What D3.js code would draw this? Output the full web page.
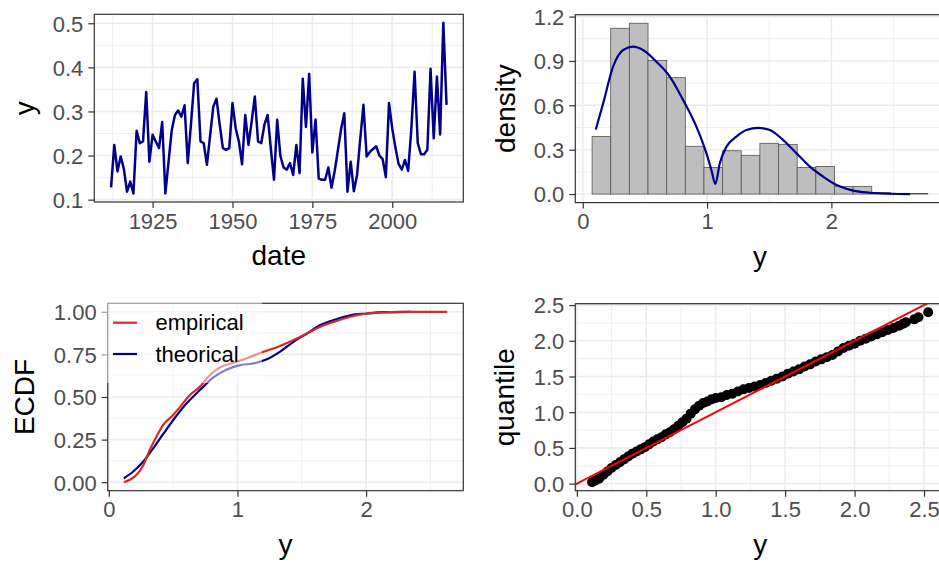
<!DOCTYPE html>
<html>
<head>
<meta charset="utf-8">
<script src="https://d3js.org/d3.v7.min.js"></script>
<style>
  body { margin: 0; background: #fff; }
  svg { display: block; font-family: "Liberation Sans", Arial, sans-serif; }
  .grid-major { stroke: #ebebeb; stroke-width: 1.6px; }
  .grid-minor { stroke: #ebebeb; stroke-width: 0.8px; }
  .border { fill: none; stroke: #333; stroke-width: 1.2px; }
  .tick line { stroke: #333; stroke-width: 1.2px; }
  .tick text { fill: #4d4d4d; font-size: 22px; }
  .axis-title { fill: #000; font-size: 28px; }
</style>
</head>
<body>
<svg id="chart" width="939" height="564"></svg>
<script>
// ---- time series (top left) ----
const years = [1912,1913,1914,1915,1916,1917,1918,1919,1920,1921,1922,1923,1924,1925,1926,1927,1928,1929,
  1930,1931,1932,1933,1934,1935,1936,1937,1938,1939,1940,1941,1942,1943,1944,1945,1946,1947,1948,1949,
  1950,1951,1952,1953,1954,1955,1956,1957,1958,1959,1960,1961,1962,1963,1964,1965,1966,1967,1968,1969,
  1970,1971,1972,1973,1974,1975,1976,1977,1978,1979,1980,1981,1982,1983,1984,1985,1986,1987,1988,1989,
  1990,1991,1992,1993,1994,1995,1996,1997,1998,1999,2000,2001,2002,2003,2004,2005,2006,2007,2008,2009,
  2010,2011,2012,2013,2014,2015,2016,2017];
const yearValues = [0.128,0.224,0.164,0.198,0.170,0.118,0.141,0.114,0.256,0.228,0.232,0.344,0.186,0.247,0.232,0.217,0.276,0.114,
  0.186,0.258,0.292,0.302,0.288,0.314,0.183,0.270,0.364,0.373,0.232,0.228,0.179,0.245,0.311,0.329,0.270,0.217,0.213,0.217,
  0.319,0.262,0.232,0.180,0.292,0.224,0.277,0.334,0.232,0.228,0.270,0.292,0.217,0.145,0.281,0.199,0.173,0.168,0.183,0.156,
  0.224,0.160,0.374,0.265,0.385,0.207,0.282,0.148,0.145,0.145,0.173,0.127,0.165,0.212,0.260,0.296,0.118,0.186,0.119,0.156,
  0.238,0.315,0.198,0.208,0.215,0.221,0.200,0.192,0.151,0.319,0.262,0.218,0.181,0.168,0.190,0.165,0.262,0.390,0.228,0.203,
  0.203,0.213,0.397,0.239,0.379,0.248,0.501,0.315];

// ---- histogram + fitted density (top right) ----
const binStart = [0.075,0.225,0.375,0.525,0.675,0.825,0.975,1.125,1.275,1.425,1.575,1.725,1.875,2.025,2.175,2.325,2.475,2.625];
const binEnd   = [0.225,0.375,0.525,0.675,0.825,0.975,1.125,1.275,1.425,1.575,1.725,1.875,2.025,2.175,2.325,2.475,2.625,2.775];
const binDensity = [0.39,1.121,1.155,0.904,0.787,0.323,0.18,0.293,0.262,0.343,0.336,0.18,0.187,0.052,0.052,0.011,0.005,0.004];
const densX = [0.105,0.164,0.244,0.325,0.405,0.485,0.592,0.700,0.807,0.914,0.995,1.035,1.067,1.102,1.156,1.236,1.317,1.413,1.505,1.612,1.720,1.827,1.935,2.042,2.176,2.310,2.471,2.632];
const densY = [0.437,0.613,0.862,0.974,0.997,0.974,0.895,0.794,0.636,0.456,0.275,0.162,0.068,0.207,0.320,0.388,0.433,0.447,0.433,0.365,0.275,0.185,0.117,0.061,0.023,0.009,0.002,0.0];

// ---- ECDF (bottom left) ----
const empX = [0.117,0.164,0.216,0.268,0.319,0.371,0.423,0.501,0.566,0.618,0.709,0.787,0.865,0.969,1.073,1.203,1.332,1.436,1.540,1.644,1.748,1.877,2.008,2.138,2.268,2.630];
const empY = [0.0,0.014,0.043,0.10,0.19,0.268,0.336,0.395,0.453,0.502,0.561,0.629,0.674,0.701,0.727,0.766,0.799,0.834,0.873,0.912,0.941,0.971,0.990,0.996,1.0,1.0];
const theoX = [0.117,0.19,0.268,0.345,0.423,0.501,0.605,0.709,0.813,0.917,1.021,1.125,1.229,1.332,1.436,1.540,1.644,1.748,1.877,2.008,2.138,2.345];
const theoY = [0.023,0.0625,0.121,0.199,0.283,0.365,0.463,0.541,0.615,0.662,0.6875,0.697,0.721,0.766,0.824,0.873,0.922,0.951,0.980,0.990,0.998,1.0];
const legendLabels = ["empirical", "theorical"];

// ---- QQ plot (bottom right) ----
const qqX = [0.11,0.13,0.16,0.19,0.22,0.25,0.28,0.31,0.34,0.37,0.40,0.43,0.46,0.49,0.52,0.55,0.58,0.61,0.64,0.67,0.70,0.73,0.76,0.79,
  0.82,0.85,0.88,0.91,0.94,0.97,1.00,1.04,1.08,1.12,1.16,1.20,1.24,1.28,1.32,1.36,1.40,1.44,1.48,1.52,1.56,1.60,1.64,1.68,1.72,1.76,
  1.80,1.84,1.88,1.92,1.96,2.00,2.04,2.08,2.12,2.16,2.20,2.24,2.28,2.32,2.35,2.37,2.43,2.46,2.53];
const qqY = [0.02,0.04,0.07,0.12,0.17,0.22,0.26,0.30,0.34,0.38,0.42,0.45,0.48,0.51,0.55,0.59,0.62,0.65,0.69,0.72,0.76,0.81,0.86,0.91,
  0.98,1.04,1.09,1.13,1.15,1.18,1.20,1.21,1.24,1.26,1.29,1.32,1.34,1.36,1.38,1.41,1.44,1.47,1.50,1.54,1.57,1.60,1.64,1.67,1.71,1.74,
  1.77,1.80,1.85,1.90,1.93,1.96,2.00,2.03,2.06,2.09,2.12,2.15,2.18,2.21,2.24,2.26,2.30,2.33,2.40];

const svg = d3.select("#chart");
const navy = "#00008b";

// ggplot style 5% expansion
const pad = ext => { let d = (ext[1]-ext[0])*0.05; return [ext[0]-d, ext[1]+d]; };

// draws background grid, border, axes and titles for one panel
function panel(p) {
  const g = svg.append("g");
  const [x0, x1] = p.x.range(), [y0, y1] = p.y.range();
  g.append("rect").attr("x", x0).attr("y", y1).attr("width", x1-x0).attr("height", y0-y1).attr("fill", "#fff");
  g.selectAll("line.xmin").data(p.xMinor).join("line").attr("class","grid-minor")
    .attr("x1", d => p.x(d)).attr("x2", d => p.x(d)).attr("y1", y0).attr("y2", y1);
  g.selectAll("line.ymin").data(p.yMinor).join("line").attr("class","grid-minor")
    .attr("y1", d => p.y(d)).attr("y2", d => p.y(d)).attr("x1", x0).attr("x2", x1);
  g.selectAll("line.xmaj").data(p.xTicks).join("line").attr("class","grid-major")
    .attr("x1", d => p.x(d)).attr("x2", d => p.x(d)).attr("y1", y0).attr("y2", y1);
  g.selectAll("line.ymaj").data(p.yTicks).join("line").attr("class","grid-major")
    .attr("y1", d => p.y(d)).attr("y2", d => p.y(d)).attr("x1", x0).attr("x2", x1);

  const clipId = "clip" + Math.round(x0) + "_" + Math.round(y1);
  svg.append("clipPath").attr("id", clipId).append("rect")
    .attr("x", x0).attr("y", y1).attr("width", x1-x0).attr("height", y0-y1);
  const plot = svg.append("g").attr("clip-path", `url(#${clipId})`);

  const front = svg.append("g");
  front.append("rect").attr("class","border").attr("x", x0).attr("y", y1).attr("width", x1-x0).attr("height", y0-y1);
  front.append("g").attr("transform", `translate(0,${y0})`)
    .call(d3.axisBottom(p.x).tickValues(p.xTicks).tickFormat(p.xFmt).tickSize(6).tickPadding(5))
    .call(a => a.select(".domain").remove())
    .call(a => a.selectAll("text").attr("font-size", null).attr("font-family", null).attr("fill", null));
  front.append("g").attr("transform", `translate(${x0},0)`)
    .call(d3.axisLeft(p.y).tickValues(p.yTicks).tickFormat(p.yFmt).tickSize(6).tickPadding(5))
    .call(a => a.select(".domain").remove())
    .call(a => a.selectAll("text").attr("font-size", null).attr("font-family", null).attr("fill", null).attr("dy", "0.36em"));
  front.append("text").attr("class","axis-title").attr("text-anchor","middle")
    .attr("x", (x0 + x1)/2).attr("y", y0 + 63).text(p.xTitle);
  front.append("text").attr("class","axis-title").attr("text-anchor","middle")
    .attr("transform", `translate(${p.yTitleX},${(y0+y1)/2}) rotate(-90)`).text(p.yTitle);
  return { plot, front };
}

// ---------- panel 1 : time series ----------
const x1s = d3.scaleLinear().domain(pad(d3.extent(years))).range([94.3, 463.3]);
const y1s = d3.scaleLinear().domain(pad(d3.extent(yearValues))).range([202, 14.3]);
const p1 = panel({ x: x1s, y: y1s, xTicks: [1925,1950,1975,2000], xMinor: [1912.5,1937.5,1962.5,1987.5,2012.5],
  yTicks: [0.1,0.2,0.3,0.4,0.5], yMinor: [0.15,0.25,0.35,0.45], xFmt: d3.format("d"), yFmt: d3.format(".1f"),
  xTitle: "date", yTitle: "y", yTitleX: 34 });
p1.plot.append("path")
  .attr("d", d3.line().x((d,i) => x1s(years[i])).y(d => y1s(d))(yearValues))
  .attr("fill","none").attr("stroke", navy).attr("stroke-width", 2.5).attr("stroke-linejoin","round");

// ---------- panel 2 : histogram ----------
const x2s = d3.scaleLinear().domain(pad([d3.min(binStart), d3.max(binEnd)])).range([575.3, 944.5]);
const y2s = d3.scaleLinear().domain(pad([0, d3.max(binDensity)])).range([202.6, 14.7]);
const p2 = panel({ x: x2s, y: y2s, xTicks: [0,1,2], xMinor: [0.5,1.5,2.5],
  yTicks: [0,0.3,0.6,0.9,1.2], yMinor: [0.15,0.45,0.75,1.05], xFmt: d3.format("d"), yFmt: d3.format(".1f"),
  xTitle: "y", yTitle: "density", yTitleX: 515 });
p2.plot.selectAll("rect.bar").data(binDensity).join("rect").attr("class","bar")
  .attr("x", (d,i) => x2s(binStart[i])).attr("width", (d,i) => x2s(binEnd[i]) - x2s(binStart[i]))
  .attr("y", d => y2s(d)).attr("height", d => y2s(0) - y2s(d))
  .attr("fill", "#bebebe").attr("stroke", "#555").attr("stroke-width", 0.8);
p2.plot.append("path")
  .attr("d", d3.line().curve(d3.curveMonotoneX).x((d,i) => x2s(d)).y((d,i) => y2s(densY[i]))(densX))
  .attr("fill","none").attr("stroke", navy).attr("stroke-width", 2.2);

// ---------- panel 3 : ECDF ----------
const x3s = d3.scaleLinear().domain(pad([d3.min(empX.concat(theoX)), d3.max(empX.concat(theoX))])).range([107.7, 463.3]);
const y3s = d3.scaleLinear().domain(pad([0, 1])).range([490.7, 303.3]);
const p3 = panel({ x: x3s, y: y3s, xTicks: [0,1,2], xMinor: [0.5,1.5,2.5],
  yTicks: [0,0.25,0.5,0.75,1], yMinor: [0.125,0.375,0.625,0.875], xFmt: d3.format("d"), yFmt: d3.format(".2f"),
  xTitle: "y", yTitle: "ECDF", yTitleX: 34 });
p3.plot.append("path")
  .attr("d", d3.line().curve(d3.curveMonotoneX).x(d => x3s(d)).y((d,i) => y3s(theoY[i]))(theoX))
  .attr("fill","none").attr("stroke", navy).attr("stroke-width", 2.2);
p3.plot.append("path")
  .attr("d", d3.line().curve(d3.curveMonotoneX).x(d => x3s(d)).y((d,i) => y3s(empY[i]))(empX))
  .attr("fill","none").attr("stroke", "#dc2626").attr("stroke-width", 2.2);
// translucent legend box over the panel
const leg = svg.append("g");
leg.append("rect").attr("x", 98).attr("y", 297).attr("width", 164).attr("height", 86)
  .attr("fill", "#fff").attr("fill-opacity", 0.5);
const legColors = ["#dc2626", navy];
legendLabels.forEach((lab, i) => {
  const cy = 322.7 + i*31.3;
  leg.append("line").attr("x1", 113).attr("x2", 137).attr("y1", cy).attr("y2", cy)
    .attr("stroke", legColors[i]).attr("stroke-width", 2.2);
  leg.append("text").attr("x", 155.5).attr("y", cy).attr("dy", "0.35em")
    .attr("font-size", 22).attr("fill", "#000").text(lab);
});

// ---------- panel 4 : QQ plot ----------
const x4s = d3.scaleLinear().domain(pad(d3.extent(qqX))).range([575.3, 945]);
const y4s = d3.scaleLinear().domain(pad(d3.extent(qqY))).range([490.7, 303.7]);
const p4 = panel({ x: x4s, y: y4s, xTicks: [0,0.5,1,1.5,2,2.5], xMinor: [0.25,0.75,1.25,1.75,2.25],
  yTicks: [0,0.5,1,1.5,2,2.5], yMinor: [0.25,0.75,1.25,1.75,2.25], xFmt: d3.format(".1f"), yFmt: d3.format(".1f"),
  xTitle: "y", yTitle: "quantile", yTitleX: 514 });
p4.plot.selectAll("circle.pt").data(qqX).join("circle").attr("class","pt")
  .attr("cx", d => x4s(d)).attr("cy", (d,i) => y4s(qqY[i])).attr("r", 5).attr("fill", "#000");
const lineDom = x4s.domain();
p4.plot.append("line")
  .attr("x1", x4s(lineDom[0])).attr("y1", y4s(lineDom[0])).attr("x2", x4s(lineDom[1])).attr("y2", y4s(lineDom[1]))
  .attr("stroke", "#ff0000").attr("stroke-width", 2);
</script>
</body>
</html>
